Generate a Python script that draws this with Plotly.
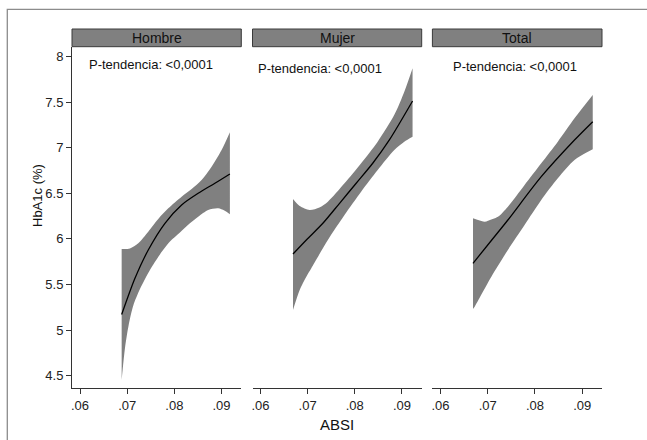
import plotly.graph_objects as go

# ---------------- data ----------------
panels = ["Hombre", "Mujer", "Total"]
p_text = "P-tendencia: <0,0001"

# Hombre
h_fit_x = [0.06883, 0.07165, 0.07447, 0.07801, 0.08154, 0.08506, 0.08860, 0.09178]
h_fit_y = [5.170, 5.568, 5.878, 6.171, 6.372, 6.500, 6.610, 6.712]
h_up_x = [0.06883, 0.07059, 0.07235, 0.07447, 0.07659, 0.07871, 0.08154, 0.08367, 0.08578, 0.08790, 0.09002, 0.09178]
h_up_y = [5.889, 5.895, 5.952, 6.079, 6.218, 6.335, 6.463, 6.547, 6.646, 6.792, 6.975, 7.170]
h_lo_x = [0.06883, 0.06953, 0.07030, 0.07130, 0.07271, 0.07483, 0.07695, 0.07907, 0.08119, 0.08330, 0.08506, 0.08718, 0.08930, 0.09060, 0.09178]
h_lo_y = [4.453, 4.800, 5.050, 5.270, 5.450, 5.660, 5.830, 5.970, 6.070, 6.170, 6.243, 6.317, 6.335, 6.310, 6.270]

# Mujer
m_fit_x = [0.06689, 0.06972, 0.07323, 0.07677, 0.08030, 0.08381, 0.08734, 0.09226]
m_fit_y = [5.834, 5.988, 6.171, 6.390, 6.610, 6.829, 7.085, 7.512]
m_up_x = [0.06689, 0.06831, 0.07042, 0.07250, 0.07429, 0.07782, 0.08135, 0.08486, 0.08839, 0.09051, 0.09226]
m_up_y = [6.437, 6.360, 6.317, 6.345, 6.408, 6.610, 6.830, 7.066, 7.360, 7.614, 7.871]
m_lo_x = [0.06689, 0.06831, 0.06972, 0.07078, 0.07429, 0.07782, 0.08135, 0.08486, 0.08839, 0.09051, 0.09226]
m_lo_y = [5.220, 5.440, 5.586, 5.678, 5.988, 6.262, 6.518, 6.755, 6.975, 7.066, 7.120]

# Total
t_fit_x = [0.06689, 0.07078, 0.07428, 0.08134, 0.08838, 0.09224]
t_fit_y = [5.732, 5.982, 6.207, 6.682, 7.084, 7.285]
t_up_x = [0.06689, 0.06936, 0.07006, 0.07217, 0.07428, 0.07781, 0.08134, 0.08485, 0.08838, 0.09224]
t_up_y = [6.226, 6.189, 6.200, 6.243, 6.353, 6.591, 6.829, 7.066, 7.322, 7.578]
t_lo_x = [0.06689, 0.06725, 0.07078, 0.07428, 0.07781, 0.08134, 0.08485, 0.08838, 0.09224]
t_lo_y = [5.231, 5.257, 5.586, 5.878, 6.152, 6.426, 6.664, 6.865, 6.982]

x_tickvals = [0.06, 0.07, 0.08, 0.09]
x_ticktext = [".06", ".07", ".08", ".09"]
y_tickvals = [4.5, 5, 5.5, 6, 6.5, 7, 7.5, 8]
y_ticktext = ["4.5", "5", "5.5", "6", "6.5", "7", "7.5", "8"]

# text positions (data coords)
p_pos_x = [0.0750, 0.07264, 0.07571]
p_pos_y = [7.907, 7.863, 7.885]

series = [
    (h_fit_x, h_fit_y, h_up_x, h_up_y, h_lo_x, h_lo_y),
    (m_fit_x, m_fit_y, m_up_x, m_up_y, m_lo_x, m_lo_y),
    (t_fit_x, t_fit_y, t_up_x, t_up_y, t_lo_x, t_lo_y),
]

# ---------------- figure ----------------
FONT = "Liberation Sans, Arial, sans-serif"
W, H = 647, 440
ML, MR, MT, MB = 72, 45, 29, 52
pw = W - ML - MR
ph = H - MT - MB

def px_to_paper_x(px):
    return (px - ML) / pw

def py_to_paper_y(py):
    return (H - MB - py) / ph

domains = [
    [px_to_paper_x(72), px_to_paper_x(241.3)],
    [px_to_paper_x(252.5), px_to_paper_x(421.7)],
    [px_to_paper_x(432.4), 1.0],
]
ytop = py_to_paper_y(46.7)

fig = go.Figure()
GRAY = "rgb(128,128,128)"
for i, (fx, fy, ux, uy, lx, ly) in enumerate(series):
    xa = "x" if i == 0 else f"x{i+1}"
    ya = "y" if i == 0 else f"y{i+1}"
    fig.add_trace(go.Scatter(x=lx, y=ly, mode="lines", line=dict(width=0, shape="spline", smoothing=0.8),
                             xaxis=xa, yaxis=ya, showlegend=False, hoverinfo="skip"))
    fig.add_trace(go.Scatter(x=ux, y=uy, mode="lines", line=dict(width=0, shape="spline", smoothing=0.8),
                             fill="tonexty", fillcolor=GRAY,
                             xaxis=xa, yaxis=ya, showlegend=False, hoverinfo="skip"))
    fig.add_trace(go.Scatter(x=fx, y=fy, mode="lines", line=dict(width=1.3, color="black", shape="spline", smoothing=0.8),
                             xaxis=xa, yaxis=ya, showlegend=False))

xrange = [0.0583, 0.0942]
yrange = [4.365, 8.107]
AX = "#333333"
TICKFONT = dict(family=FONT, size=13, color="#222")
common_x = dict(range=xrange, tickvals=x_tickvals, ticktext=x_ticktext, ticks="outside", ticklen=5,
                tickcolor=AX, showline=True, linecolor=AX, linewidth=1, showgrid=False, zeroline=False,
                tickfont=TICKFONT, fixedrange=True)
layout = dict(
    width=W, height=H, margin=dict(l=ML, r=MR, t=MT, b=MB),
    paper_bgcolor="white", plot_bgcolor="white", showlegend=False,
    font=dict(family=FONT, size=13, color="#222"),
)
for i in range(3):
    key = "xaxis" if i == 0 else f"xaxis{i+1}"
    layout[key] = dict(common_x, domain=domains[i], anchor="y" if i == 0 else f"y{i+1}")
layout["yaxis"] = dict(range=yrange, domain=[0, ytop], anchor="x", tickvals=y_tickvals, ticktext=y_ticktext,
                       ticks="outside", ticklen=5, tickcolor=AX, showline=True, linecolor=AX, linewidth=1,
                       showgrid=False, zeroline=False, tickfont=TICKFONT, fixedrange=True)
for i in (1, 2):
    layout[f"yaxis{i+1}"] = dict(range=yrange, domain=[0, ytop], anchor=f"x{i+1}", visible=False, fixedrange=True)
fig.update_layout(**layout)

shapes = []
annotations = []
# outer border
shapes.append(dict(type="rect", xref="paper", yref="paper",
                   x0=px_to_paper_x(7.3), x1=px_to_paper_x(700), y0=py_to_paper_y(500), y1=py_to_paper_y(9.3),
                   line=dict(color="rgb(140,140,140)", width=1.3), fillcolor="rgba(0,0,0,0)", layer="below"))
for i, name in enumerate(panels):
    d = domains[i]
    shapes.append(dict(type="rect", xref="paper", yref="paper", x0=d[0], x1=d[1], y0=ytop, y1=1.0,
                       line=dict(color="#3a3a3a", width=1), fillcolor=GRAY))
    annotations.append(dict(text=name, xref="paper", yref="paper", x=(d[0] + d[1]) / 2, y=(ytop + 1) / 2,
                            showarrow=False, xanchor="center", yanchor="middle",
                            font=dict(family=FONT, size=14, color="#111")))
    xr = "x" if i == 0 else f"x{i+1}"
    yr = "y" if i == 0 else f"y{i+1}"
    annotations.append(dict(text=p_text, xref=xr, yref=yr, x=p_pos_x[i], y=p_pos_y[i], showarrow=False,
                            xanchor="center", yanchor="middle", font=dict(family=FONT, size=13, color="#111")))
annotations.append(dict(text="ABSI", xref="paper", yref="paper", x=px_to_paper_x(337), y=py_to_paper_y(424),
                        showarrow=False, xanchor="center", yanchor="middle",
                        font=dict(family=FONT, size=15, color="#111")))
annotations.append(dict(text="HbA1c (%)", xref="paper", yref="paper", x=px_to_paper_x(37), y=py_to_paper_y(196),
                        showarrow=False, xanchor="center", yanchor="middle", textangle=-90,
                        font=dict(family=FONT, size=13, color="#111")))
fig.update_layout(shapes=shapes, annotations=annotations)

fig.write_html("out.html", config={"displayModeBar": False},
               post_script="document.body.style.margin='0';document.body.style.overflow='hidden';")
